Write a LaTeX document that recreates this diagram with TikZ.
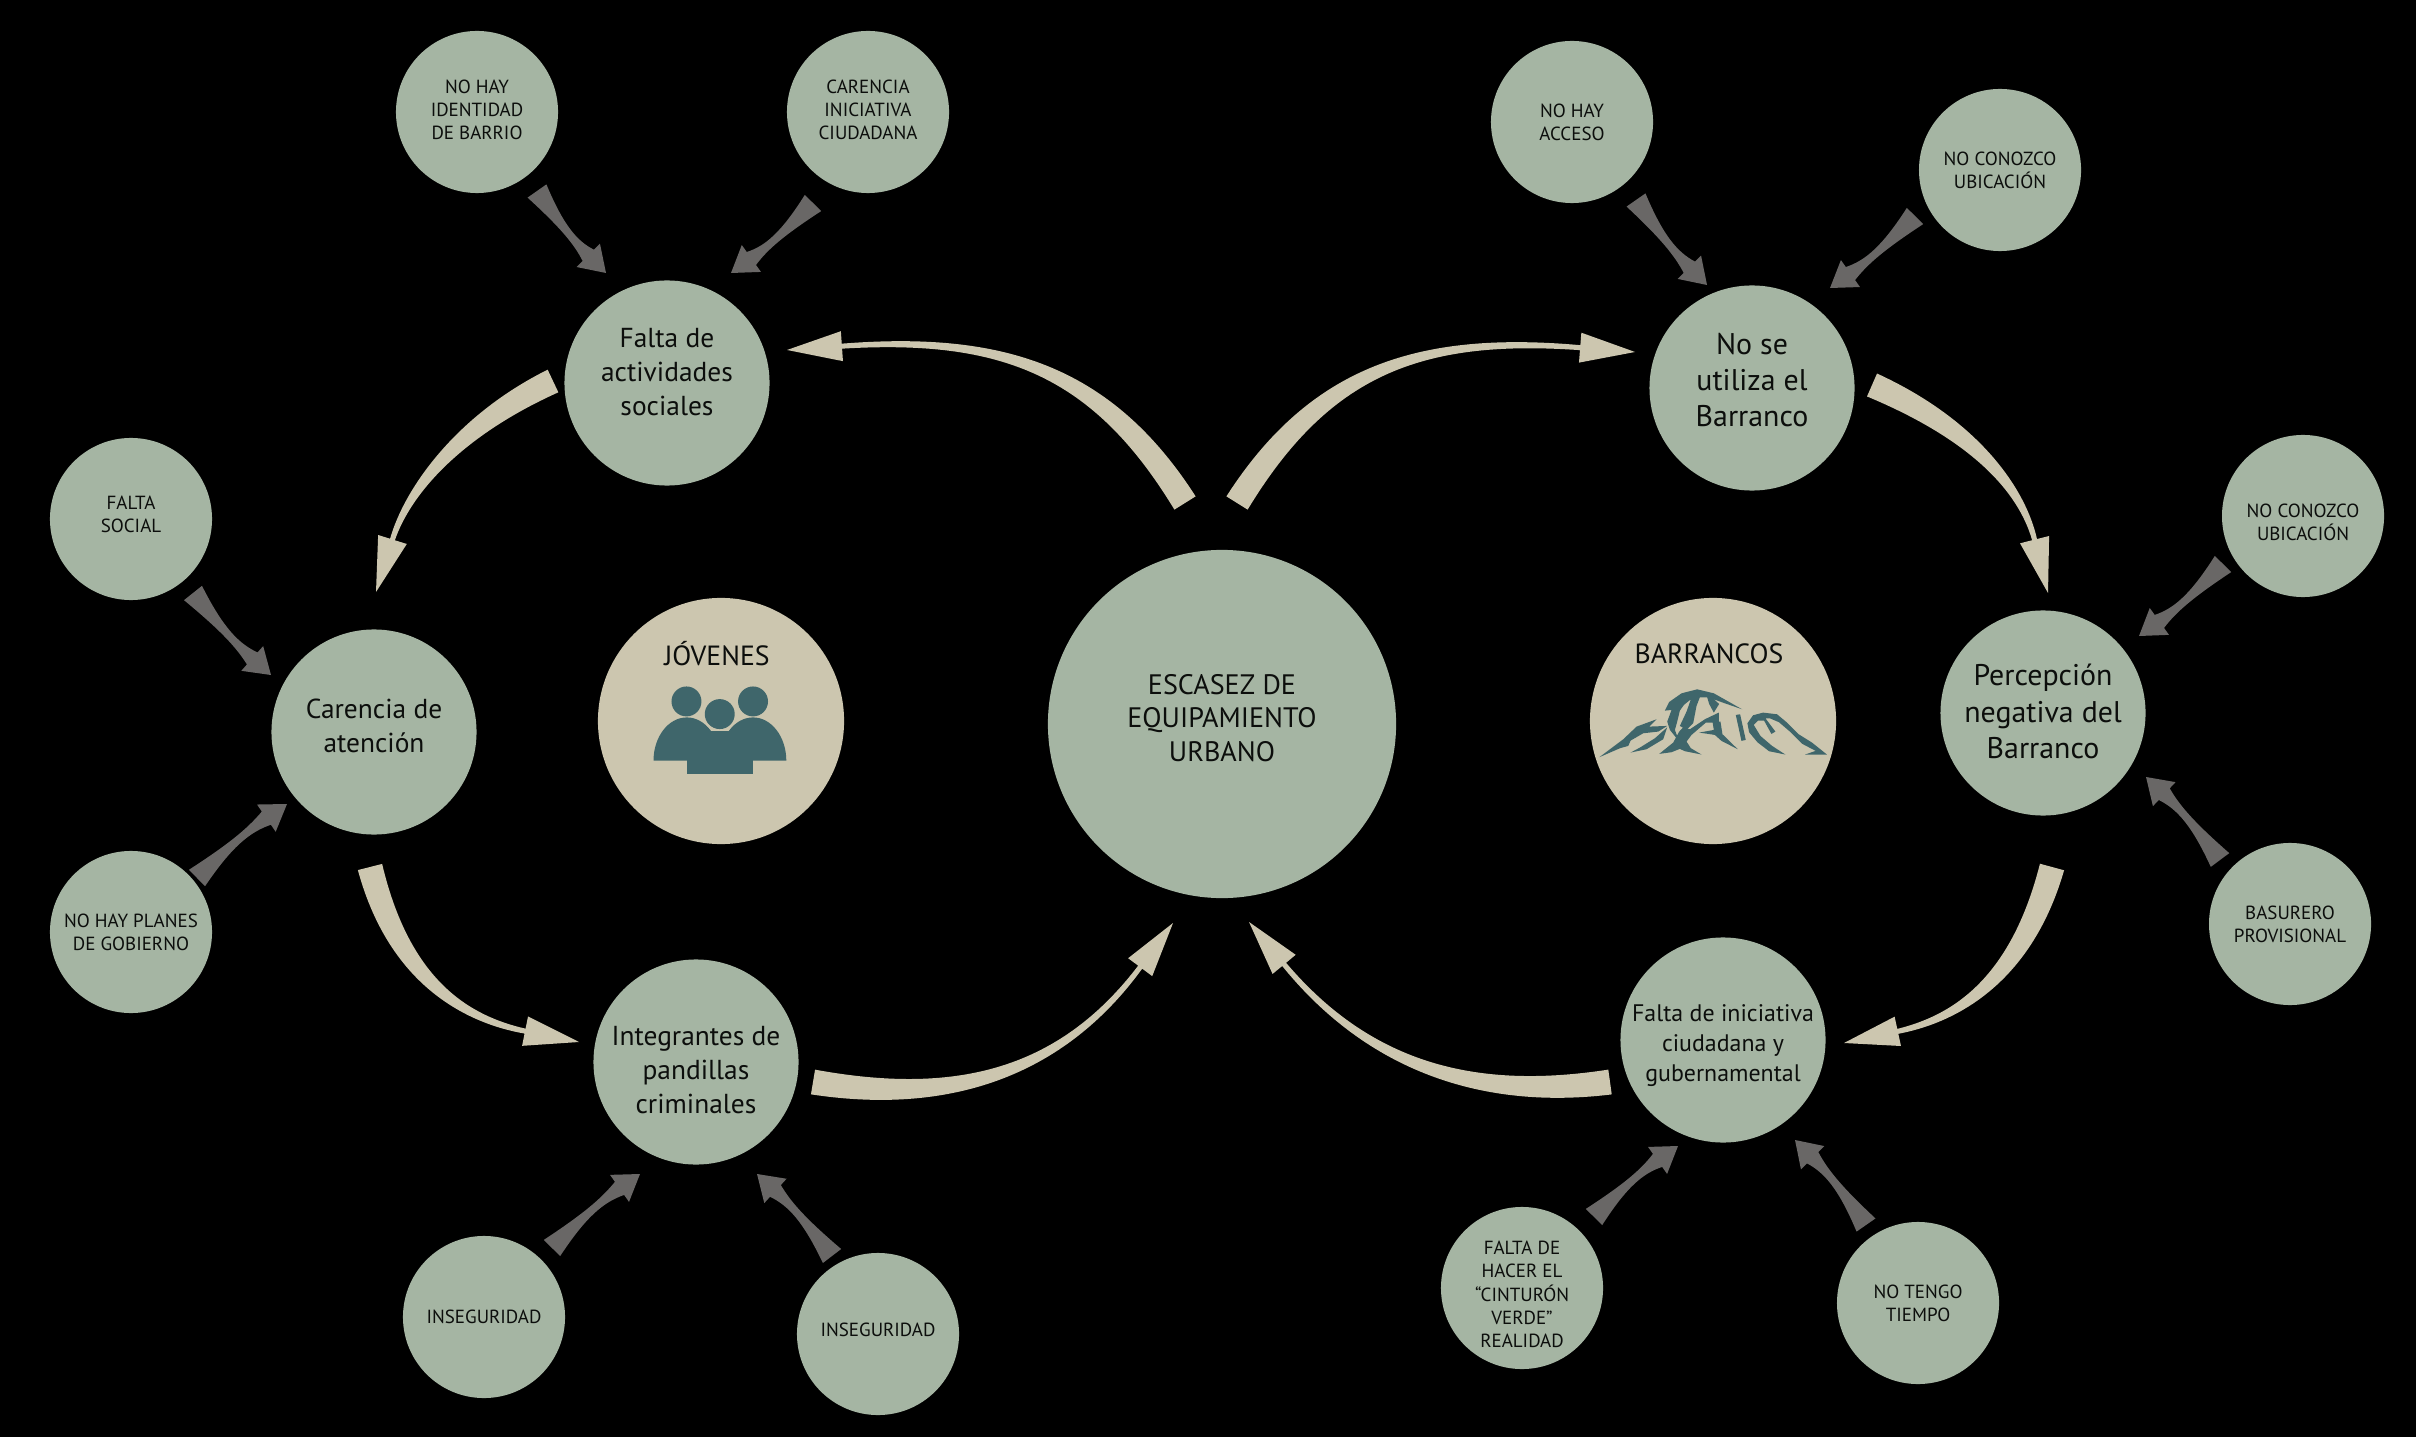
\documentclass[tikz,border=0pt]{standalone}
\usepackage{fontspec}
\setmainfont{PT Sans}
\usetikzlibrary{calc}

\definecolor{salvia}{HTML}{A5B5A3}
\definecolor{arena}{HTML}{CCC6AF}
\definecolor{gris}{HTML}{696766}
\definecolor{petroleo}{HTML}{3F666B}
\definecolor{tinta}{HTML}{0C0E0C}

% tapered arrow: style, tail, first control, second control, tip
\newcommand{\taper}[5]{%
  \coordinate (ta) at #2;
  \coordinate (ca) at #3;
  \coordinate (cb) at #4;
  \coordinate (ti) at #5;
  \coordinate (ne) at ($(ti)!\lhead!(cb)$);
  \fill[#1] ($(ta)!\wtail!90:(ca)$) .. controls ($(ca)!\wca!-90:(ta)$) and ($(cb)!\wcb!90:(ne)$) .. ($(ne)!\wneck!-90:(cb)$)
    -- ($(ne)!\whead!-90:(cb)$) -- (ti) -- ($(ne)!\whead!90:(cb)$) -- ($(ne)!\wneck!90:(cb)$)
    .. controls ($(cb)!\wcb!-90:(ne)$) and ($(ca)!\wca!90:(ta)$) .. ($(ta)!\wtail!-90:(ca)$) -- cycle;
}
\newcommand{\bigflow}[4]{%
  \def\wtail{0.125cm}\def\wca{0.105cm}\def\wcb{0.04cm}\def\wneck{0.025cm}\def\whead{0.15cm}\def\lhead{0.55cm}
  \taper{arena}{#1}{#2}{#3}{#4}
}
\newcommand{\smallflow}[3]{%
  \coordinate (sa) at #1;
  \coordinate (sb) at #2;
  \def\wtail{0.115cm}\def\wca{0.02cm}\def\wcb{0.02cm}\def\wneck{0.08cm}\def\whead{0.165cm}\def\lhead{0.25cm}
  \taper{gris}{(sa)}{($(sa)!0.4!#3:(sb)$)}{($(sb)!0.4!-#3:(sa)$)}{(sb)}
}
% struts that move a label up or down inside its circle
\newcommand{\subir}[1]{\rule[-#1]{0pt}{#1}}
\newcommand{\bajar}[1]{\rule{0pt}{#1}}

\begin{document}
\begin{tikzpicture}[
  x=0.01cm, y=-0.01cm,
  every node/.style={circle, inner sep=0pt, align=center, text=tinta},
  centre/.style={fill=salvia, minimum size=3.48cm, font=\fontsize{8}{9.6}\selectfont},
  tema/.style={fill=arena, minimum size=2.46cm},
  medio/.style={fill=salvia, minimum size=2.05cm, font=\fontsize{7.8}{9.7}\selectfont},
  mediog/.style={medio, font=\fontsize{8.5}{10.3}\selectfont},
  menor/.style={fill=salvia, minimum size=1.62cm, font=\fontsize{5.4}{6.6}\selectfont},
  rotulo/.style={rectangle, font=\fontsize{7.9}{9}\selectfont}
]
\useasboundingbox (0,0) rectangle (2416,1437);
\fill[black] (0,0) rectangle (2416,1437);

% central circle and the two themes
\node[centre] (centro) at (1222,724) {ESCASEZ DE\\EQUIPAMIENTO\\URBANO\subir{3.5pt}};
\node[tema] (jovenes) at (721,721) {};
\node[tema] (barrancos) at (1713,721) {};
\node[rotulo] (rjovenes) at (717,654) {JÓVENES};
\node[rotulo] (rbarrancos) at (1709,654) {BARRANCOS};

% causes
\node[medio] (falta) at (667,383) {Falta de\\actividades\\sociales\subir{6.3pt}};
\node[mediog] (nose) at (1752,388) {No se\\utiliza el\\Barranco\subir{4.5pt}};
\node[mediog] (percep) at (2043,713) {Percepción\\negativa del\\Barranco\subir{1pt}};
\node[medio, font=\fontsize{6.8}{8.5}\selectfont] (inic) at (1723,1040) {\bajar{8pt}Falta de iniciativa\\ciudadana y\\gubernamental};
\node[medio] (integ) at (696,1062) {\bajar{10pt}Integrantes de\\pandillas\\criminales};
\node[medio] (caren) at (374,732) {Carencia de\\atención\subir{3.6pt}};

% answers
\node[menor] (identidad) at (477,112) {NO HAY\\IDENTIDAD\\DE BARRIO\subir{1.2pt}};
\node[menor] (ciudadana) at (868,112) {CARENCIA\\INICIATIVA\\CIUDADANA\subir{1.2pt}};
\node[menor] (acceso) at (1572,122) {NO HAY\\ACCESO};
\node[menor] (ubicaa) at (2000,170) {NO CONOZCO\\UBICACIÓN};
\node[menor] (ubicab) at (2303,516) {\bajar{7.5pt}NO CONOZCO\\UBICACIÓN};
\node[menor] (basurero) at (2290,924) {BASURERO\\PROVISIONAL};
\node[menor] (tiempo) at (1918,1303) {NO TENGO\\TIEMPO};
\node[menor] (cinturon) at (1522,1288) {\bajar{7.5pt}FALTA DE\\HACER EL\\“CINTURÓN\\VERDE”\\REALIDAD};
\node[menor] (insegb) at (878,1334) {INSEGURIDAD\subir{2.6pt}};
\node[menor] (insega) at (484,1317) {INSEGURIDAD};
\node[menor] (planes) at (131,932) {NO HAY PLANES\\DE GOBIERNO};
\node[menor] (social) at (131,519) {FALTA\\SOCIAL\subir{2.6pt}};

% big arrows
\bigflow{($(centro)+(-37,-221)$)}{(1102,370)}{(1002,335)}{($(falta)+(120,-33)$)}
\bigflow{($(centro)+(15,-221)$)}{(1320,370)}{(1420,335)}{($(nose)+(-117,-36)$)}
\bigflow{($(nose)+(120,-3)$)}{(1975,430)}{(2022,490)}{($(percep)+(5,-120)$)}
\bigflow{($(percep)+(9,154)$)}{(2020,985)}{(1950,1020)}{($(inic)+(121,3)$)}
\bigflow{($(inic)+(-113,42)$)}{(1480,1100)}{(1370,1068)}{($(centro)+(27,198)$)}
\bigflow{($(integ)+(117,20)$)}{(950,1105)}{(1060,1075)}{($(centro)+(-49,199)$)}
\bigflow{($(caren)+(-4,135)$)}{(400,985)}{(470,1020)}{($(integ)+(-117,-20)$)}
\bigflow{($(falta)+(-114,-2)$)}{(460,425)}{(408,490)}{($(caren)+(2,-140)$)}

% small arrows
\smallflow{($(identidad)+(60,79)$)}{($(falta)+(-61,-110)$)}{-5}
\smallflow{($(ciudadana)+(-55,91)$)}{($(falta)+(64,-110)$)}{5}
\smallflow{($(acceso)+(64,78)$)}{($(nose)+(-45,-103)$)}{-5}
\smallflow{($(ubicaa)+(-85,46)$)}{($(nose)+(78,-100)$)}{5}
\smallflow{($(ubicab)+(-80,48)$)}{($(percep)+(96,-77)$)}{5}
\smallflow{($(basurero)+(-70,-64)$)}{($(percep)+(103,64)$)}{-5}
\smallflow{($(tiempo)+(-52,-78)$)}{($(inic)+(72,100)$)}{-5}
\smallflow{($(cinturon)+(72,-71)$)}{($(inic)+(-45,106)$)}{5}
\smallflow{($(insegb)+(-46,-78)$)}{($(integ)+(61,112)$)}{-5}
\smallflow{($(insega)+(68,-69)$)}{($(integ)+(-56,112)$)}{5}
\smallflow{($(planes)+(66,-54)$)}{($(caren)+(-87,72)$)}{5}
\smallflow{($(social)+(62,74)$)}{($(caren)+(-103,-57)$)}{-5}

% people icon
\begin{scope}[shift={(560,560)}, x=0.00333cm, y=-0.00333cm]
  \fill[petroleo] (380,425) circle[radius=45];
  \fill[petroleo] (580,425) circle[radius=45];
  \fill[petroleo] (281,603) arc[start angle=180, end angle=360, x radius=100, y radius=130] -- cycle;
  \fill[petroleo] (480,603) arc[start angle=180, end angle=360, x radius=100, y radius=130] -- cycle;
  \fill[petroleo] (381,560) rectangle (580,643);
  \fill[arena] (480,463) circle[radius=52];
  \fill[petroleo] (440,515) -- (520,515) -- (520,570) -- (440,570) -- cycle;
  \fill[petroleo] (480,463) circle[radius=45];
\end{scope}

% mountain icon
\begin{scope}[shift={(1590,680)}, x=0.00333cm, y=-0.00333cm, petroleo]
  \fill (28,232) -- (100,178) -- (140,140) -- (200,118) -- (178,140) -- (232,138) -- (205,155) -- (160,160) -- (122,182) -- (115,198) -- (90,205) -- cycle;
  \fill (122,218) -- (150,203) -- (195,175) -- (232,142) -- (220,178) -- (170,208) -- cycle;
  \fill (225,92) -- (238,66) -- (275,40) -- (322,28) -- (372,40) -- (457,88) -- (405,70) -- (372,58) -- (388,72) -- (372,98) -- (358,72) -- (352,52) -- (330,52) -- (320,78) -- (310,130) -- (290,150) -- (270,138) -- (290,95) -- (303,58) -- (282,75) -- (270,92) -- (262,125) -- (255,150) -- (268,185) -- (240,150) -- (232,125) -- (245,90) -- cycle;
  \fill (208,222) -- (250,188) -- (268,155) -- (280,142) -- (300,148) -- (345,118) -- (387,98) -- (387,128) -- (348,128) -- (305,165) -- (290,185) -- (303,205) -- (335,224) -- (285,214) -- (270,207) -- (245,217) -- cycle;
  \fill (328,158) -- (372,150) -- (368,125) -- (392,125) -- (398,163) -- (444,208) -- (395,183) -- (375,165) -- cycle;
  \fill (438,105) -- (451,103) -- (468,180) -- (455,183) -- cycle;
  \fill (473,130) -- (490,106) -- (520,98) -- (562,103) -- (592,128) -- (627,163) -- (667,188) -- (712,224) -- (646,224) -- (678,213) -- (638,192) -- (603,157) -- (568,127) -- (540,115) -- (527,115) -- (557,155) -- (545,162) -- (523,122) -- (505,122) -- (492,135) -- (512,168) -- (547,198) -- (587,224) -- (538,214) -- (503,187) -- (478,157) -- cycle;
\end{scope}
\end{tikzpicture}
\end{document}
